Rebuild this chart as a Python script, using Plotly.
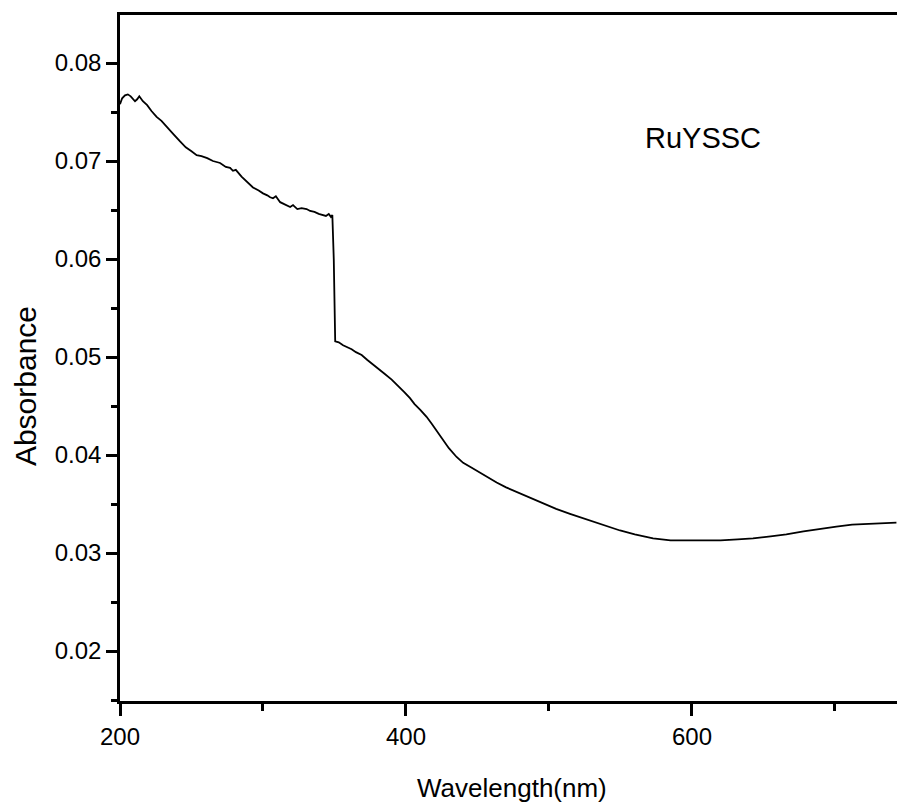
import plotly.graph_objects as go

wavelength = [200, 201.5, 203.5, 205.5, 207.5, 210.5, 212, 213.5, 216, 219, 222, 225.6, 229, 233, 237, 242,
              246, 250, 253.6, 257, 261, 265, 270, 274, 277, 279, 281, 285, 289, 293, 297, 300,
              303, 305, 307, 309, 312, 315, 317, 319, 321, 324, 327, 330.5, 333, 336, 339, 342, 344,
              346, 347.5, 348.5, 349.5, 350.5, 353, 356, 359, 362, 365, 369, 373, 377, 381, 385, 390,
              395, 399, 402.8, 406, 410, 414.4, 418, 422, 426, 430, 435.4, 440, 446, 451.7, 457, 463.4,
              470, 479.7, 486.7, 495, 505, 514.7, 525, 537, 549.7, 560, 572.8, 585, 595, 607.7, 620,
              632, 642.7, 655, 666, 678, 690, 701, 712, 724.5, 735, 743]
absorbance = [0.0758, 0.0764, 0.0767, 0.0768, 0.0766, 0.0761, 0.0763, 0.0766, 0.0761, 0.0757, 0.0751, 0.0745, 0.0741, 0.0735, 0.0728, 0.0720,
              0.0714, 0.0710, 0.0706, 0.0705, 0.0703, 0.0700, 0.0698, 0.0694, 0.0693, 0.0690, 0.0691, 0.0684, 0.0679, 0.0673, 0.0670, 0.0667,
              0.0665, 0.0663, 0.0662, 0.0664, 0.0658, 0.0656, 0.0654, 0.0653, 0.0655, 0.0651, 0.0652, 0.0651, 0.0649, 0.0648, 0.0646, 0.0645, 0.0644,
              0.0646, 0.0643, 0.0645, 0.0600, 0.0516, 0.0515, 0.0512, 0.0510, 0.0508, 0.0505, 0.0502, 0.0497, 0.0492, 0.0487, 0.0483, 0.0477,
              0.0470, 0.0464, 0.0458, 0.0452, 0.0446, 0.0439, 0.0432, 0.0424, 0.0415, 0.0407, 0.0398, 0.0392, 0.0387, 0.0382, 0.0377, 0.0372,
              0.0367, 0.0361, 0.0356, 0.0351, 0.0345, 0.0340, 0.0335, 0.0329, 0.0323, 0.0319, 0.0315, 0.0313, 0.0313, 0.0313, 0.0313,
              0.0314, 0.0315, 0.0317, 0.0319, 0.0322, 0.0325, 0.0327, 0.0329, 0.0330, 0.0331, 0.0331]

x_ticks = [200, 400, 600]
y_ticks = [0.02, 0.03, 0.04, 0.05, 0.06, 0.07, 0.08]

FONT = "Liberation Sans, Arial, sans-serif"

fig = go.Figure()
fig.add_trace(go.Scatter(x=wavelength, y=absorbance, mode="lines",
                         line=dict(color="black", width=1.8), showlegend=False))

fig.add_annotation(x=607.7, y=0.0724, text="RuYSSC", showarrow=False,
                   font=dict(size=29, color="black", family=FONT))
fig.add_annotation(xref="paper", yref="paper", x=0.5045, y=-0.1268,
                   text="Wavelength(nm)", showarrow=False,
                   xanchor="center", yanchor="middle",
                   font=dict(size=26, color="black", family=FONT))
fig.add_annotation(xref="paper", yref="paper", x=-0.1223, y=0.459,
                   text="Absorbance", showarrow=False, textangle=-90,
                   xanchor="center", yanchor="middle",
                   font=dict(size=30, color="black", family=FONT))

fig.update_layout(
    width=897, height=805,
    margin=dict(l=120, r=0, t=15, b=104),
    paper_bgcolor="white", plot_bgcolor="white",
    font=dict(family=FONT, color="black", size=24),
    xaxis=dict(
        range=[200, 743.4], tickvals=x_ticks, ticktext=[str(v) for v in x_ticks],
        ticks="outside", ticklen=12, tickwidth=2.5, tickcolor="black",
        showline=True, linecolor="black", linewidth=2.5, mirror=True,
        showgrid=False, zeroline=False,
        minor=dict(dtick=100, tick0=200, ticks="outside", ticklen=7, tickwidth=2.5,
                   tickcolor="black", showgrid=False),
        tickfont=dict(size=24),
    ),
    yaxis=dict(
        range=[0.0149, 0.0849], tickvals=y_ticks, ticktext=[f"{v:.2f}" for v in y_ticks],
        ticks="outside", ticklen=11, tickwidth=2.5, tickcolor="black",
        showline=True, linecolor="black", linewidth=2.5, mirror=False,
        showgrid=False, zeroline=False,
        minor=dict(dtick=0.005, tick0=0.015, ticks="outside", ticklen=6, tickwidth=2.5,
                   tickcolor="black", showgrid=False),
        tickfont=dict(size=24),
    ),
)

fig.write_html("out.html", config={"displayModeBar": False},
               post_script="document.body.style.margin='0';document.body.style.padding='0';")
